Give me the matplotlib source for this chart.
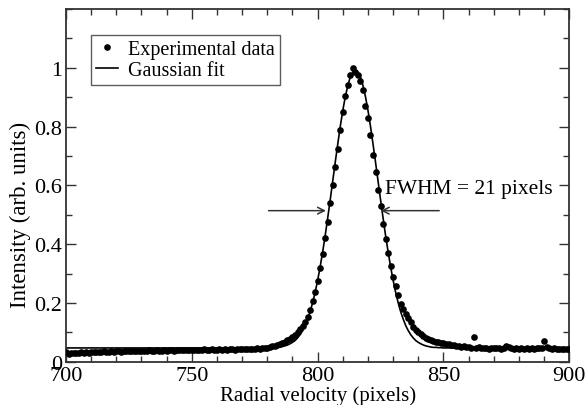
import numpy as np
import matplotlib
matplotlib.use("Agg")
import matplotlib.pyplot as plt
from matplotlib.ticker import MultipleLocator, FormatStrFormatter

# measured profile, one point per pixel from 700 to 900
data_x = np.arange(700, 901)
data_y = [
    0.032, 0.028, 0.030, 0.029, 0.031, 0.030, 0.032, 0.031, 0.033, 0.031,  # 700
    0.032, 0.034, 0.033, 0.032, 0.034, 0.035, 0.033, 0.034, 0.036, 0.034,  # 710
    0.035, 0.036, 0.034, 0.036, 0.037, 0.035, 0.036, 0.038, 0.036, 0.037,  # 720
    0.038, 0.036, 0.037, 0.039, 0.037, 0.038, 0.039, 0.037, 0.038, 0.040,  # 730
    0.038, 0.039, 0.040, 0.038, 0.039, 0.040, 0.039, 0.041, 0.039, 0.040,  # 740
    0.041, 0.040, 0.039, 0.041, 0.040, 0.042, 0.040, 0.041, 0.042, 0.040,  # 750
    0.041, 0.043, 0.041, 0.042, 0.040, 0.042, 0.043, 0.041, 0.043, 0.042,  # 760
    0.044, 0.042, 0.043, 0.045, 0.043, 0.044, 0.046, 0.045, 0.047, 0.048,  # 770
    0.048, 0.050, 0.052, 0.055, 0.058, 0.061, 0.064, 0.068, 0.073, 0.078,  # 780
    0.085, 0.092, 0.100, 0.110, 0.122, 0.136, 0.152, 0.176, 0.205, 0.238,  # 790
    0.276, 0.318, 0.365, 0.420, 0.475, 0.540, 0.600, 0.662, 0.725, 0.790,  # 800
    0.850, 0.905, 0.942, 0.975, 0.998, 0.985, 0.975, 0.955, 0.925, 0.870,  # 810
    0.830, 0.770, 0.705, 0.645, 0.585, 0.530, 0.470, 0.418, 0.370, 0.325,  # 820
    0.287, 0.258, 0.228, 0.198, 0.180, 0.163, 0.148, 0.134, 0.118, 0.108,  # 830
    0.100, 0.094, 0.086, 0.080, 0.076, 0.073, 0.070, 0.068, 0.066, 0.064,  # 840
    0.063, 0.061, 0.060, 0.057, 0.056, 0.054, 0.053, 0.051, 0.052, 0.050,  # 850
    0.049, 0.048, 0.083, 0.047, 0.049, 0.046, 0.048, 0.047, 0.045, 0.047,  # 860
    0.046, 0.048, 0.046, 0.045, 0.047, 0.052, 0.050, 0.046, 0.045, 0.047,  # 870
    0.044, 0.046, 0.045, 0.047, 0.044, 0.046, 0.045, 0.047, 0.048, 0.046,  # 880
    0.072, 0.050, 0.047, 0.045, 0.046, 0.044, 0.045, 0.043, 0.044, 0.042,  # 890
    0.043,
]

# gaussian fit curve as drawn (flat outside 780-850)
fit_x = [700] + list(range(780, 851)) + [900]
fit_y = [
    0.047,
    0.047, 0.048, 0.048, 0.049, 0.049, 0.050, 0.052, 0.054, 0.057, 0.061,  # 780
    0.066, 0.072, 0.081, 0.092, 0.106, 0.123, 0.145, 0.170, 0.201, 0.236,  # 790
    0.277, 0.323, 0.374, 0.429, 0.489, 0.551, 0.615, 0.679, 0.741, 0.801,  # 800
    0.855, 0.902, 0.940, 0.969, 0.986, 0.992, 0.986, 0.969, 0.940, 0.902,  # 810
    0.855, 0.801, 0.741, 0.679, 0.615, 0.551, 0.489, 0.429, 0.374, 0.323,  # 820
    0.277, 0.236, 0.201, 0.170, 0.145, 0.123, 0.106, 0.092, 0.081, 0.072,  # 830
    0.066, 0.061, 0.057, 0.054, 0.052, 0.050, 0.049, 0.049, 0.048, 0.048,  # 840
    0.047,
    0.047,
]

fwhm_left = 803.3
fwhm_right = 825.1
fwhm_level = 0.514
fwhm_label = "FWHM = 21 pixels"

plt.rcParams['font.family'] = ['Liberation Serif', 'DejaVu Serif']

fig = plt.figure(figsize=(5.86, 4.06), dpi=100)
ax = fig.add_axes([0.1126, 0.1065, 0.8589, 0.8689])

ax.plot(data_x, data_y, 'o', color='black', markersize=4.8, markeredgewidth=0,
        label='Experimental data', zorder=3)
ax.plot(fit_x, fit_y, '-', color='black', linewidth=1.2, label='Gaussian fit', zorder=2)

arrow = dict(arrowstyle='->', color='#333333', lw=1.1, mutation_scale=12,
             shrinkA=0, shrinkB=0)
ax.annotate('', xy=(fwhm_left, fwhm_level), xytext=(780.5, fwhm_level), arrowprops=arrow)
ax.annotate('', xy=(fwhm_right, fwhm_level), xytext=(848.3, fwhm_level), arrowprops=arrow)
ax.text(826.8, 0.59, fwhm_label, fontsize=15.5, va='center', ha='left')

ax.set_xlim(700, 900)
ax.set_ylim(0, 1.2)
ax.set_yticks([0, 0.2, 0.4, 0.6, 0.8, 1.0])
ax.yaxis.set_major_formatter(FormatStrFormatter('%g'))
ax.xaxis.set_major_locator(MultipleLocator(50))
ax.xaxis.set_minor_locator(MultipleLocator(10))
ax.yaxis.set_minor_locator(MultipleLocator(0.1))
ax.tick_params(which='both', direction='in', top=True, right=True,
               labelsize=16, width=1.0, color='#333333')
ax.tick_params(which='major', length=7, pad=3)
ax.tick_params(which='minor', length=4)
for s in ax.spines.values():
    s.set_linewidth(1.3)
    s.set_color('#333333')

ax.set_xlabel('Radial velocity (pixels)', fontsize=15, labelpad=0)
ax.set_ylabel('Intensity (arb. units)', fontsize=16.5)
ax.yaxis.set_label_coords(-0.07, 0.42)

leg = ax.legend(loc='upper left', bbox_to_anchor=(0.05, 0.927), fontsize=14.5,
                frameon=True, fancybox=False, handlelength=1.1, handletextpad=0.5,
                borderpad=0.25, labelspacing=0.1, borderaxespad=0)
leg.get_frame().set_edgecolor('#333333')
leg.get_frame().set_linewidth(1.0)

fig.savefig('out.png', dpi=100)
